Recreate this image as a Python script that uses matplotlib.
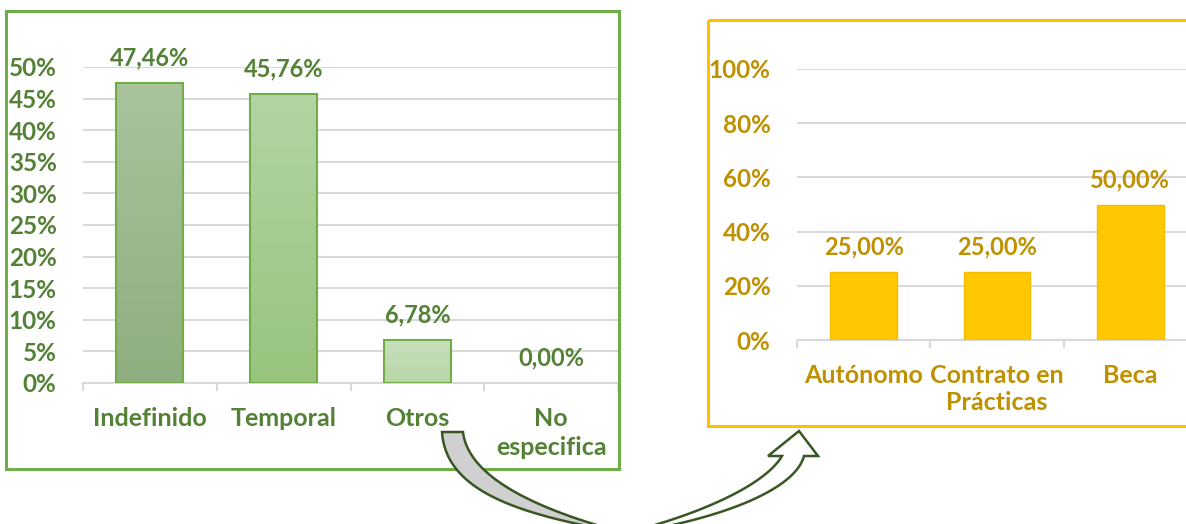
import matplotlib
matplotlib.use('Agg')
import matplotlib.pyplot as plt
from matplotlib.patches import Rectangle, Polygon
from matplotlib.ticker import FuncFormatter, FixedLocator
import numpy as np


W, H = 1186, 524
FONT = 'Lato'

# left chart: tipo de contrato
left_categories = ['Indefinido', 'Temporal', 'Otros', 'No\nespecifica']
left_values = [0.4746, 0.4576, 0.0678, 0.0]
left_ticks = [0, 0.05, 0.10, 0.15, 0.20, 0.25, 0.30, 0.35, 0.40, 0.45, 0.50]

# right chart: detalle de "Otros"
right_categories = ['Autónomo', 'Contrato en\nPrácticas', 'Beca']
right_values = [0.25, 0.25, 0.50]
right_ticks = [0, 0.2, 0.4, 0.6, 0.8, 1.0]

GREEN_TXT = '#538135'
GREEN_EDGE = '#70AD47'
GOLD_TXT = '#BF9000'
YELLOW = '#FFC800'
GRID = '#D9D9D9'
ARROW_EDGE = '#385723'

# top / bottom colours of the gradient on each left bar
left_grad = [('#A9C39D', '#8FAE7F'), ('#B3D4A3', '#98C47E'), ('#C8DFBC', '#B9D6A8'), ('#C8DFBC', '#B9D6A8')]


def hex_rgb(h):
    h = h.lstrip('#')
    return np.array([int(h[i:i + 2], 16) / 255 for i in (0, 2, 4)])


def pct_label(v):
    return '{:.2f}%'.format(v * 100).replace('.', ',')


def bezier(p0, p1, p2, p3, n=80):
    P = np.array([p0, p1, p2, p3], dtype=float)
    t = np.linspace(0, 1, n)[:, None]
    return ((1 - t) ** 3 * P[0] + 3 * (1 - t) ** 2 * t * P[1]
            + 3 * (1 - t) * t ** 2 * P[2] + t ** 3 * P[3])


def style_axes(ax, color, ticks, ncat, xpad):
    for s in ['top', 'right', 'left']:
        ax.spines[s].set_visible(False)
    ax.spines['bottom'].set_color(GRID)
    ax.spines['bottom'].set_linewidth(1.5)
    ax.set_xlim(-0.5, ncat - 0.5)
    ax.set_ylim(0, ticks[-1])
    ax.set_yticks(ticks)
    ax.yaxis.set_major_formatter(FuncFormatter(lambda v, p: '{:.0f}%'.format(v * 100)))
    ax.grid(axis='y', color=GRID, linewidth=1.5)
    ax.set_axisbelow(True)
    ax.tick_params(axis='y', length=0, pad=19, labelcolor=color)
    ax.xaxis.set_major_locator(FixedLocator(np.arange(ncat + 1) - 0.5))
    ax.xaxis.set_minor_locator(FixedLocator(np.arange(ncat)))
    ax.tick_params(axis='x', which='major', length=6, width=1.5, color=GRID, labelbottom=False)
    ax.tick_params(axis='x', which='minor', length=0, pad=xpad, labelcolor=color)
    for lab in ax.get_yticklabels():
        lab.set_fontweight('bold')
        lab.set_fontsize(17.5)
        lab.set_family(FONT)


def main():
    fig = plt.figure(figsize=(W / 100, H / 100), dpi=100)

    # ---- left chart ----
    axl = fig.add_axes([83 / W, (H - 383) / H, 535 / W, 316 / H])
    style_axes(axl, GREEN_TXT, left_ticks, len(left_categories), 17.5)
    x = np.arange(len(left_values))
    bw = 0.5
    for xi, v, (c_top, c_bot) in zip(x, left_values, left_grad):
        if v <= 0:
            continue
        grad = np.linspace(hex_rgb(c_top), hex_rgb(c_bot), 64)[:, None, :]
        rect = Rectangle((xi - bw / 2, 0), bw, v, facecolor='none', edgecolor=GREEN_EDGE,
                         linewidth=1.5, zorder=3)
        axl.add_patch(rect)
        im = axl.imshow(grad, extent=(xi - bw / 2, xi + bw / 2, 0, v), aspect='auto', zorder=2)
        im.set_clip_path(rect)
    axl.set_xlim(-0.5, len(left_values) - 0.5)
    axl.set_ylim(0, left_ticks[-1])
    axl.set_xticklabels(left_categories, minor=True, fontsize=18, fontweight='bold',
                        family=FONT, linespacing=1.3)
    for xi, v in zip(x, left_values):
        axl.annotate(pct_label(v), (xi, v), xytext=(0, 18), textcoords='offset points',
                     ha='center', va='center', color=GREEN_TXT, fontsize=17,
                     fontweight='bold', family=FONT, annotation_clip=False)

    # ---- right chart ----
    axr = fig.add_axes([797 / W, (H - 340) / H, 400 / W, 271 / H])
    style_axes(axr, GOLD_TXT, right_ticks, len(right_categories), 17)
    xr = np.arange(len(right_values))
    axr.bar(xr, right_values, width=0.5, color=YELLOW, edgecolor='#F2BC00', linewidth=1, zorder=3)
    axr.set_xticklabels(right_categories, minor=True, fontsize=18, fontweight='bold',
                        family=FONT, linespacing=1.24)
    for xi, v in zip(xr, right_values):
        axr.annotate(pct_label(v), (xi, v), xytext=(0, 18), textcoords='offset points',
                     ha='center', va='center', color=GOLD_TXT, fontsize=17,
                     fontweight='bold', family=FONT, annotation_clip=False)

    # ---- overlay: frames and the curved arrow, in pixel coords ----
    ov = fig.add_axes([0, 0, 1, 1])
    ov.set_xlim(0, W)
    ov.set_ylim(H, 0)
    ov.axis('off')
    ov.patch.set_visible(False)

    ov.add_patch(Rectangle((6, 11), 613, 458, fill=False, edgecolor=GREEN_EDGE, linewidth=2.2))
    ov.add_patch(Rectangle((708, 20), 520, 406, fill=False, edgecolor='#FFC000', linewidth=2.2))

    # back face of the ribbon (grey), from "Otros" down to below the picture
    outer = bezier((442, 432), (446, 492), (520, 515), (625, 533))
    inner = bezier((463, 432), (468, 475), (530, 508), (625, 533))
    back = Polygon(np.vstack([outer, inner[::-1]]), closed=True, facecolor='#D0D0D0',
                   edgecolor=ARROW_EDGE, linewidth=1.8, zorder=6)
    ov.add_patch(back)

    # front face rising to the head (white)
    upper = bezier((618, 535), (700, 515), (765, 485), (782, 456))
    lower = bezier((618, 535), (720, 520), (795, 490), (804, 456))
    head = np.array([(768, 456), (799, 431), (818, 456)], dtype=float)
    front = Polygon(np.vstack([upper, head, lower[::-1]]), closed=True, facecolor='white',
                    edgecolor=ARROW_EDGE, linewidth=1.8, zorder=5)
    ov.add_patch(front)

    fig.savefig('out.png', dpi=100)


if __name__ == '__main__':
    main()
